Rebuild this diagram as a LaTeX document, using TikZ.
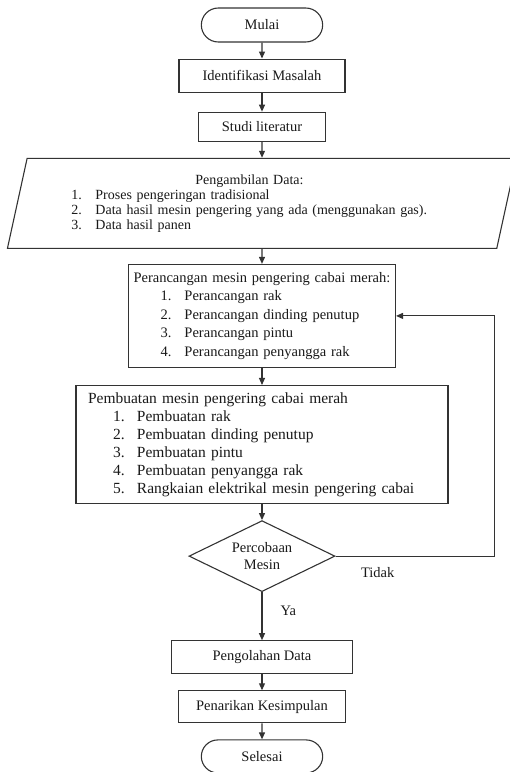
\documentclass[tikz,border=0pt]{standalone}
\usepackage{fontspec}
\setmainfont{Liberation Serif}
\usetikzlibrary{positioning,shapes.geometric,shapes.misc,arrows.meta}
\newcommand{\butir}[3]{\hspace*{#1}\makebox[24pt][l]{#2}#3}
\begin{document}
\begin{tikzpicture}[x=1pt,y=-1pt,
    proses/.style={draw=black!80,line width=1.1pt,rectangle,text=black!90,font=\fontsize{14.5}{17}\selectfont},
    ujung/.style={proses,rounded rectangle,minimum width=128pt,minimum height=34pt},
    masukan/.style={proses,trapezium,trapezium left angle=73,trapezium right angle=107,trapezium stretches body,minimum width=509pt,minimum height=90pt,text width=381pt,align=left,font=\fontsize{14}{15}\selectfont},
    keputusan/.style={proses,diamond,aspect=2,inner sep=0pt,minimum width=146pt,minimum height=71pt,align=center},
    keterangan/.style={text=black!90,font=\fontsize{14.5}{17}\selectfont},
    panah/.style={draw=black!80,line width=1.1pt,-{Triangle[length=7pt,width=6pt]}}]
    \useasboundingbox (0,0) rectangle (510,772);
    \node [ujung] (mulai) at (262,25) {Mulai};
    \node [proses,minimum width=166pt,minimum height=33pt] (identifikasi) [below=16pt of mulai] {Identifikasi Masalah};
    \node [proses,minimum width=127pt,minimum height=29pt] (studi) [below=19pt of identifikasi] {Studi literatur};
    \node [masukan] (pengambilan) [below=16pt of studi] {\makebox[356pt]{Pengambilan Data:}\\
        \butir{0pt}{1.}{Proses pengeringan tradisional}\\
        \butir{0pt}{2.}{Data hasil mesin pengering yang ada (menggunakan gas).}\\
        \butir{0pt}{3.}{Data hasil panen}};
    \node [proses,text width=257pt,inner xsep=5pt,minimum height=103pt,align=left,font=\fontsize{14.5}{18.5}\selectfont] (perancangan) [below=15pt of pengambilan] {Perancangan mesin pengering cabai merah:\\
        \butir{27pt}{1.}{Perancangan rak}\\
        \butir{27pt}{2.}{Perancangan dinding penutup}\\
        \butir{27pt}{3.}{Perancangan pintu}\\
        \butir{27pt}{4.}{Perancangan penyangga rak}};
    \node [proses,text width=348pt,inner xsep=12pt,minimum height=118pt,align=left,font=\fontsize{15.5}{18}\selectfont] (pembuatan) [below=17pt of perancangan] {Pembuatan mesin pengering cabai merah\\
        \butir{25pt}{1.}{Pembuatan rak}\\
        \butir{25pt}{2.}{Pembuatan dinding penutup}\\
        \butir{25pt}{3.}{Pembuatan pintu}\\
        \butir{25pt}{4.}{Pembuatan penyangga rak}\\
        \butir{25pt}{5.}{Rangkaian elektrikal mesin pengering cabai}};
    \node [keputusan] (percobaan) [below=16pt of pembuatan] {Percobaan\\Mesin};
    \node [proses,minimum width=181pt,minimum height=33pt] (pengolahan) [below=48pt of percobaan] {Pengolahan Data};
    \node [proses,minimum width=167pt,minimum height=32pt] (penarikan) [below=16pt of pengolahan] {Penarikan Kesimpulan};
    \node [ujung,minimum height=33pt] (selesai) [below=16pt of penarikan] {Selesai};
    \draw [panah] (mulai) -- (identifikasi);
    \draw [panah] (identifikasi) -- (studi);
    \draw [panah] (studi) -- (pengambilan);
    \draw [panah] (pengambilan) -- (perancangan);
    \draw [panah] (perancangan) -- (pembuatan);
    \draw [panah] (pembuatan) -- (percobaan);
    \draw [panah] (percobaan) -- (pengolahan);
    \draw [panah] (pengolahan) -- (penarikan);
    \draw [panah] (penarikan) -- (selesai);
    \coordinate [right=159pt of percobaan.east] (belok);
    \draw [panah] (percobaan.east) -- (belok) |- (perancangan.east);
    \node [keterangan,below right=8pt and 22pt of percobaan.east] (tidak) {Tidak};
    \node [keterangan,below right=10pt and 15pt of percobaan.south] (ya) {Ya};
\end{tikzpicture}
\end{document}
